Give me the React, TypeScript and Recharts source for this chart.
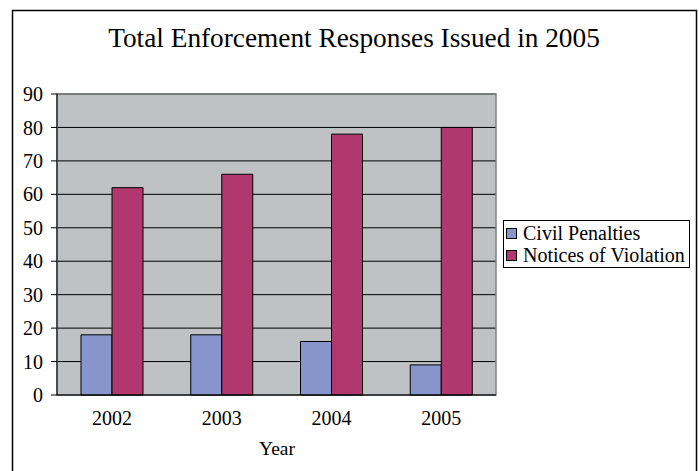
import React from 'react';
import { BarChart, Bar, XAxis, YAxis, CartesianGrid, Legend, ReferenceArea } from 'recharts';

const years = ['2002', '2003', '2004', '2005'];
const civilPenalties = [18, 18, 16, 9];
const noticesOfViolation = [62, 66, 78, 80];
const yTicks = [0, 10, 20, 30, 40, 50, 60, 70, 80, 90];
const boundaryTicks = [0, 1, 2, 3, 4];
const seriesKeys = ['civil', 'nov'];
const seriesNames = ['Civil Penalties', 'Notices of Violation'];
const seriesColors = ['#8895CC', '#B1386F'];
const titleText = 'Total Enforcement Responses Issued in 2005';
const xAxisTitle = 'Year';

const data = years.map((y, i) => ({ year: y, civil: civilPenalties[i], nov: noticesOfViolation[i] }));

const FONT = '"Liberation Serif", Tinos, "Times New Roman"';

const renderLegend = () => (
  <div
    style={{
      width: 187,
      height: 48,
      border: '1px solid #000',
      boxSizing: 'border-box',
      background: '#fff',
      fontFamily: FONT,
      fontSize: 20,
      color: '#000',
      paddingTop: 1,
    }}
  >
    {seriesNames.map((n, i) => (
      <div key={n} style={{ display: 'flex', alignItems: 'center', height: 22, whiteSpace: 'nowrap', fontFamily: FONT }}>
        <span
          style={{
            display: 'inline-block',
            width: 11,
            height: 11,
            boxSizing: 'border-box',
            background: seriesColors[i],
            border: '1px solid #000',
            marginLeft: 2,
            marginRight: 6,
          }}
        />
        <span style={{ fontFamily: FONT }}>{n}</span>
      </div>
    ))}
  </div>
);

const tickStyle = { fontSize: 20, fill: '#000', fontFamily: FONT, style: { fontFamily: FONT } };

export default function App() {
  return (
    <div
      style={{
        position: 'absolute',
        left: 0,
        top: 0,
        width: 699,
        height: 471,
        background: '#fff',
        overflow: 'hidden',
        fontFamily: FONT,
      }}
    >
      <BarChart
        width={699}
        height={471}
        data={data}
        margin={{ top: 94, right: 203, bottom: 65, left: 12 }}
        barGap={0}
        barCategoryGap={24}
      >
        <CartesianGrid fill="#BEC2C4" stroke="#000" vertical={false} fillOpacity={1} />
        <ReferenceArea xAxisId="cat" y1={0} y2={90} fill="none" stroke="#808080" strokeWidth={1.5} ifOverflow="visible" />
        <YAxis
          domain={[0, 90]}
          ticks={yTicks}
          width={45}
          interval={0}
          axisLine={{ stroke: '#000' }}
          tickLine={{ stroke: '#000' }}
          tickSize={6}
          tickMargin={8}
          tick={tickStyle}
        />
        <XAxis
          xAxisId="cat"
          dataKey="year"
          height={1}
          axisLine={false}
          tickLine={false}
          tickSize={0}
          tickMargin={6}
          interval={0}
          tick={tickStyle}
        />
        <XAxis
          xAxisId="b"
          type="number"
          domain={[0, 4]}
          ticks={boundaryTicks}
          allowDataOverflow
          height={10}
          interval={0}
          axisLine={{ stroke: '#000' }}
          tickLine={{ stroke: '#000' }}
          tickSize={6}
          tick={false}
        />
        {seriesKeys.map((k, i) => (
          <Bar
            key={k}
            xAxisId="cat"
            dataKey={k}
            name={seriesNames[i]}
            fill={seriesColors[i]}
            stroke="#000"
            strokeWidth={1}
            isAnimationActive={false}
          />
        ))}
        <Legend
          layout="vertical"
          align="center"
          verticalAlign="middle"
          content={renderLegend}
          wrapperStyle={{ left: 503, top: 220, width: 187, height: 48 }}
        />
      </BarChart>
      <svg
        width={699}
        height={471}
        style={{ position: 'absolute', left: 0, top: 0, pointerEvents: 'none' }}
      >
        <rect x={12.5} y={10.5} width={684} height={470} fill="none" stroke="#000" strokeWidth={1.5} />
        <text x={354} y={47} textAnchor="middle" fontSize={27.3} fill="#000" fontFamily={FONT} style={{ fontFamily: FONT }}>
          {titleText}
        </text>
        <text x={277} y={455} textAnchor="middle" fontSize={19.5} fill="#000" fontFamily={FONT} style={{ fontFamily: FONT }}>
          {xAxisTitle}
        </text>
      </svg>
    </div>
  );
}
